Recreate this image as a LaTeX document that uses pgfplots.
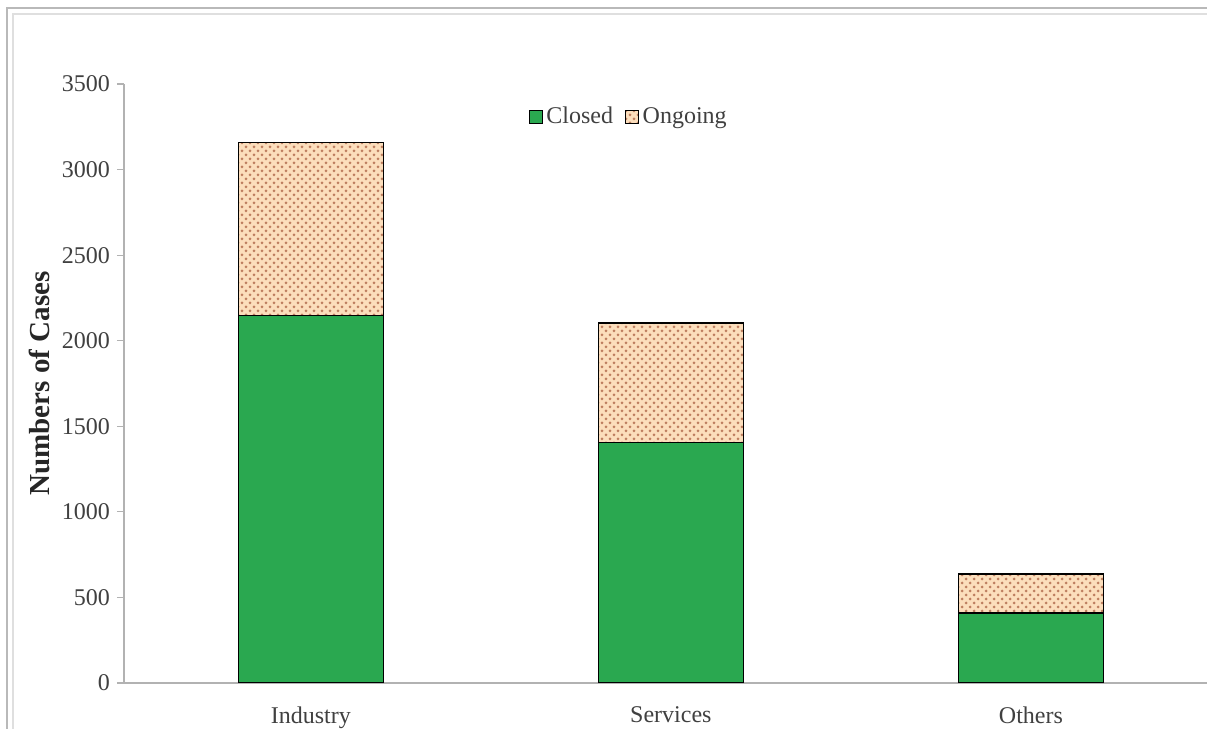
\documentclass[border=0pt]{standalone}
\usepackage{fontspec}
\setmainfont{Liberation Serif}
\usepackage{pgfplots}
\pgfplotsset{compat=1.18}
\usetikzlibrary{patterns}
\definecolor{cgreen}{RGB}{42,168,80}
\definecolor{peach}{RGB}{252,222,188}
\definecolor{dotc}{RGB}{190,126,96}
\definecolor{tickc}{RGB}{64,64,64}
\pgfdeclarepatternformonly{mydots}{\pgfqpoint{-1pt}{-1pt}}{\pgfqpoint{5pt}{5pt}}{\pgfqpoint{4pt}{4pt}}{%
  \pgfpathcircle{\pgfqpoint{1pt}{1pt}}{0.75pt}%
  \pgfpathcircle{\pgfqpoint{3pt}{3pt}}{0.75pt}%
  \pgfusepath{fill}}
\begin{document}
\begin{tikzpicture}
\useasboundingbox (0,0) rectangle (603.5pt,364.5pt);
\clip (0,0) rectangle (603.5pt,364.5pt);
\draw[gray!55, line width=1pt] (3.5pt,-20pt) -- (3.5pt,360.5pt) -- (700pt,360.5pt);
\draw[gray!25, line width=0.8pt] (6.5pt,-20pt) -- (6.5pt,357.5pt) -- (700pt,357.5pt);
\begin{axis}[
  at={(62pt,23pt)}, anchor=south west,
  scale only axis, width=541.5pt, height=299.5pt,
  xmin=-0.519, xmax=2.489, ymin=0, ymax=3500,
  ybar stacked, bar width=72.5pt,
  axis lines*=left,
  axis line style={draw=gray!60, line width=0.6pt},
  xtick={0,1,2}, xticklabels={Industry,Services,Others},
  ytick={0,500,...,3500},
  x tick style={draw=none},
  y tick style={draw=gray!60, line width=0.6pt},
  tick align=outside, major tick length=3.5pt,
  scaled y ticks=false,
  /pgf/number format/assume math mode=true,
  /pgf/number format/1000 sep={},
  ticklabel style={font=\fontsize{12}{14}\selectfont, text=tickc},
  xticklabel style={yshift=-5pt},
  yticklabel style={xshift=0pt},
  ylabel={\textbf{Numbers of Cases}},
  ylabel style={at={(axis description cs:-0.0776,0.5)}, anchor=center, rotate=0, font=\fontsize{14.5}{17}\selectfont, text=black!85},
  legend style={draw=none, fill=none, at={(axis description cs:0.467,0.945)}, anchor=center,
    legend columns=2, font=\fontsize{12}{14}\selectfont, text=tickc,
    /tikz/every even column/.append style={column sep=4pt}},
  legend image code/.code={\draw[#1, draw=black, line width=0.4pt] (0pt,-3.2pt) rectangle (6.4pt,3.2pt);},
]
\addplot[fill=cgreen, draw=black, line width=0.6pt] coordinates {(0,2145) (1,1403) (2,409)};
\addplot[fill=peach, draw=black, line width=0.6pt, postaction={pattern=mydots, pattern color=dotc}] coordinates {(0,1011) (1,701) (2,228)};
\legend{Closed,Ongoing}
\end{axis}
\end{tikzpicture}
\end{document}
